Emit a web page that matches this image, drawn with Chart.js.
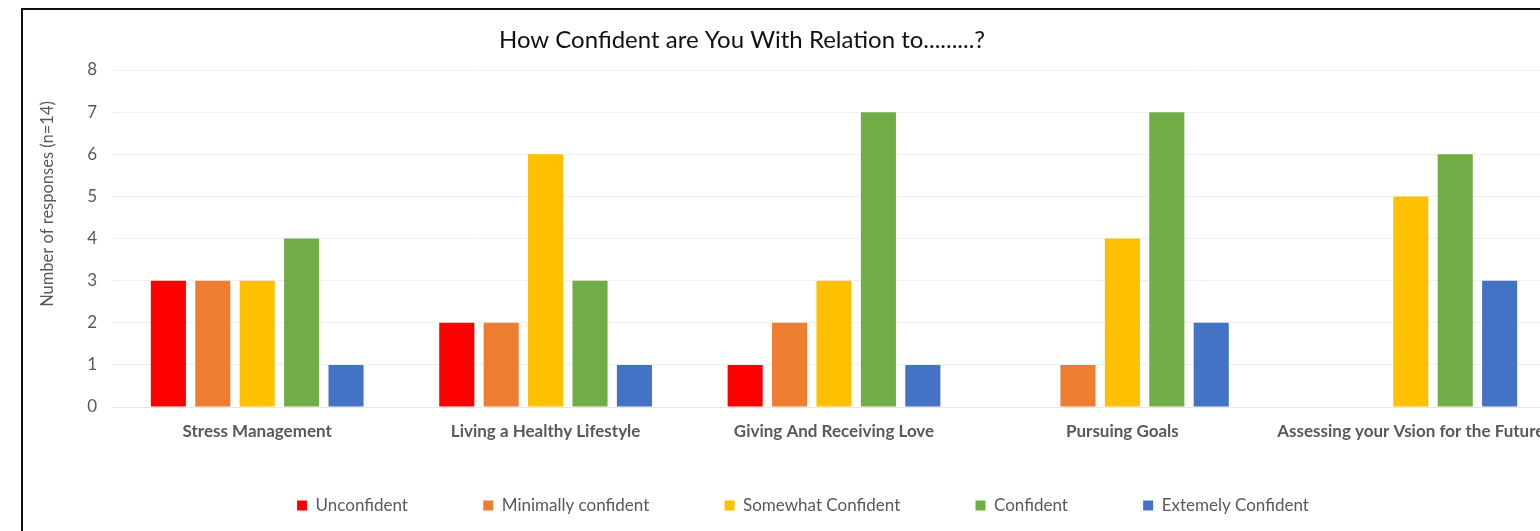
<!DOCTYPE html>
<html>
<head>
<meta charset="utf-8">
<script src="https://cdn.jsdelivr.net/npm/chart.js@4"></script>
<style>
  html, body { margin: 0; padding: 0; background: #fff; overflow: hidden; }
  body { width: 1540px; height: 531px; position: relative; }
  .frame {
    position: absolute; left: 21px; top: 8px;
    width: 1600px; height: 600px;
    border-left: 2px solid #111; border-top: 2px solid #111;
  }
  .chart-container { position: absolute; left: 2px; top: 2px; width: 1530px; height: 520px; }
</style>
</head>
<body>
<div class="frame">
  <div class="chart-container"><canvas id="chart"></canvas></div>
</div>
<script>
// Chart data
const categories = ['Stress Management', 'Living a Healthy Lifestyle', 'Giving And Receiving Love', 'Pursuing Goals', 'Assessing your Vsion for the Future'];
const seriesNames = ['Unconfident', 'Minimally confident', 'Somewhat Confident', 'Confident', 'Extemely Confident'];
const unconfident = [3, 2, 1, 0, 0];
const minimallyConfident = [3, 2, 2, 1, 0];
const somewhatConfident = [3, 6, 3, 4, 5];
const confident = [4, 3, 7, 7, 6];
const extremelyConfident = [1, 1, 1, 2, 3];
const yTicks = [0, 1, 2, 3, 4, 5, 6, 7, 8];
const chartTitle = 'How Confident are You With Relation to.........?';
const yAxisTitle = 'Number of responses (n=14)';

const colors = ['#FF0000', '#ED7D31', '#FFC000', '#70AD47', '#4472C4'];
const seriesValues = [unconfident, minimallyConfident, somewhatConfident, confident, extremelyConfident];
// extra gap after each legend entry (in spaces), Excel spaces them wider than Chart.js
const legendGaps = [15, 15, 15, 15, 0];

const FONT = 'Lato, Carlito, "Open Sans", sans-serif';

// Title and y axis title are placed off-centre in the original, so draw them by hand
const offsetTextPlugin = {
  id: 'offsetText',
  afterDraw(chart) {
    const ctx = chart.ctx;
    ctx.save();
    ctx.fillStyle = '#111';
    ctx.font = '24px ' + FONT;
    ctx.textAlign = 'center';
    ctx.textBaseline = 'middle';
    ctx.fillText(chartTitle, 717, 28);

    ctx.fillStyle = '#595959';
    ctx.font = '16.5px ' + FONT;
    ctx.translate(23, 192);
    ctx.rotate(-Math.PI / 2);
    ctx.fillText(yAxisTitle, 0, 0);
    ctx.restore();
  }
};

const datasets = seriesNames.map((name, i) => ({
  label: name,
  data: seriesValues[i],
  backgroundColor: colors[i],
  categoryPercentage: 0.77,
  barPercentage: 0.79,
}));

new Chart(document.getElementById('chart').getContext('2d'), {
  type: 'bar',
  data: { labels: categories, datasets: datasets },
  options: {
    responsive: true,
    maintainAspectRatio: false,
    animation: false,
    layout: { padding: { top: 58, left: 26, right: 0, bottom: 8 } },
    plugins: {
      title: { display: false },
      tooltip: { enabled: false },
      legend: {
        position: 'bottom',
        labels: {
          boxWidth: 10,
          boxHeight: 10,
          padding: 10,
          color: '#595959',
          font: { family: FONT, size: 17 },
          generateLabels: chart => {
            const items = Chart.defaults.plugins.legend.labels.generateLabels(chart);
            items.forEach((item, i) => { item.text = item.text + ' '.repeat(legendGaps[i]); });
            return items;
          }
        }
      }
    },
    scales: {
      x: {
        grid: { display: false },
        border: { color: '#e6e6e6' },
        afterFit: scale => { scale.height = 80; },
        ticks: {
          color: '#595959',
          padding: 6,
          maxRotation: 0,
          autoSkip: false,
          font: { family: FONT, size: 17, weight: 'bold' }
        }
      },
      y: {
        min: 0,
        max: 8,
        afterBuildTicks: scale => { scale.ticks = yTicks.map(v => ({ value: v })); },
        afterFit: scale => { scale.width = 62; },
        grid: { color: '#f0f0f0', drawTicks: false },
        border: { display: false },
        ticks: {
          color: '#595959',
          padding: 16,
          font: { family: FONT, size: 17 }
        }
      }
    }
  },
  plugins: [offsetTextPlugin]
});
</script>
</body>
</html>
